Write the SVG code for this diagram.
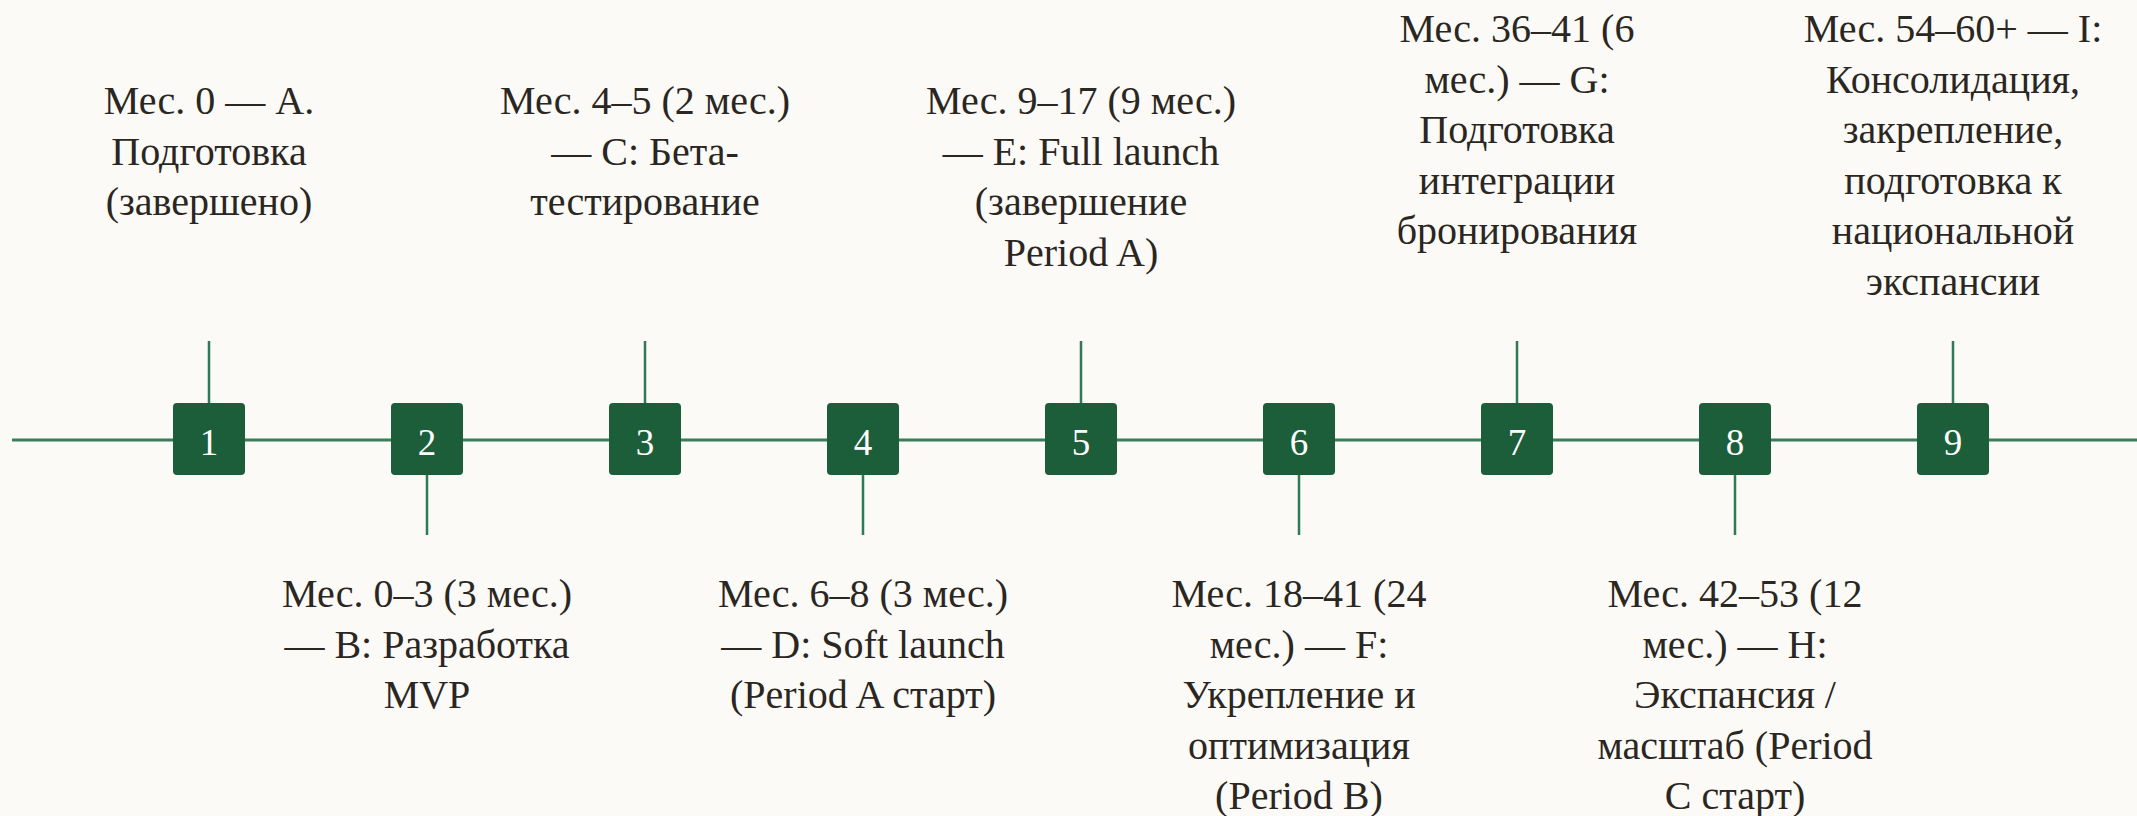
<svg xmlns="http://www.w3.org/2000/svg" width="2137" height="816" viewBox="0 0 2137 816">
<style>
.bg{fill:#fbfaf6}
.axis{stroke:#3a7d5b;stroke-width:3;fill:none}
.stem{stroke:#2f7a56;stroke-width:2.5;fill:none}
.box{fill:#1c5e3a}
.num{font-family:"Liberation Serif",serif;font-size:37px;fill:#ffffff;text-anchor:middle}
.lbl{font-family:"Liberation Serif",serif;font-size:40px;fill:#2a2622;text-anchor:middle}
</style>
<rect class="bg" x="0" y="0" width="2137" height="816"/>
<g id="connectors">
<line class="axis" x1="12" y1="440" x2="2137" y2="440"/>
<line class="stem" x1="209" y1="341" x2="209" y2="403"/>
<line class="stem" x1="427" y1="475" x2="427" y2="535"/>
<line class="stem" x1="645" y1="341" x2="645" y2="403"/>
<line class="stem" x1="863" y1="475" x2="863" y2="535"/>
<line class="stem" x1="1081" y1="341" x2="1081" y2="403"/>
<line class="stem" x1="1299" y1="475" x2="1299" y2="535"/>
<line class="stem" x1="1517" y1="341" x2="1517" y2="403"/>
<line class="stem" x1="1735" y1="475" x2="1735" y2="535"/>
<line class="stem" x1="1953" y1="341" x2="1953" y2="403"/>
</g>
<g id="node1">
<rect class="box" x="173" y="403" width="72" height="72" rx="4"/>
<text class="num" x="209" y="455">1</text>
<text class="lbl" x="209" y="114"><tspan x="209">Мес. 0 — А.</tspan><tspan x="209" dy="50.6">Подготовка</tspan><tspan x="209" dy="50.6">(завершено)</tspan></text>
</g>
<g id="node2">
<rect class="box" x="391" y="403" width="72" height="72" rx="4"/>
<text class="num" x="427" y="455">2</text>
<text class="lbl" x="427" y="607"><tspan x="427">Мес. 0–3 (3 мес.)</tspan><tspan x="427" dy="50.6">— B: Разработка</tspan><tspan x="427" dy="50.6">MVP</tspan></text>
</g>
<g id="node3">
<rect class="box" x="609" y="403" width="72" height="72" rx="4"/>
<text class="num" x="645" y="455">3</text>
<text class="lbl" x="645" y="114"><tspan x="645">Мес. 4–5 (2 мес.)</tspan><tspan x="645" dy="50.6">— C: Бета-</tspan><tspan x="645" dy="50.6">тестирование</tspan></text>
</g>
<g id="node4">
<rect class="box" x="827" y="403" width="72" height="72" rx="4"/>
<text class="num" x="863" y="455">4</text>
<text class="lbl" x="863" y="607"><tspan x="863">Мес. 6–8 (3 мес.)</tspan><tspan x="863" dy="50.6">— D: Soft launch</tspan><tspan x="863" dy="50.6">(Period A старт)</tspan></text>
</g>
<g id="node5">
<rect class="box" x="1045" y="403" width="72" height="72" rx="4"/>
<text class="num" x="1081" y="455">5</text>
<text class="lbl" x="1081" y="114"><tspan x="1081">Мес. 9–17 (9 мес.)</tspan><tspan x="1081" dy="50.6">— E: Full launch</tspan><tspan x="1081" dy="50.6">(завершение</tspan><tspan x="1081" dy="50.6">Period A)</tspan></text>
</g>
<g id="node6">
<rect class="box" x="1263" y="403" width="72" height="72" rx="4"/>
<text class="num" x="1299" y="455">6</text>
<text class="lbl" x="1299" y="607"><tspan x="1299">Мес. 18–41 (24</tspan><tspan x="1299" dy="50.6">мес.) — F:</tspan><tspan x="1299" dy="50.6">Укрепление и</tspan><tspan x="1299" dy="50.6">оптимизация</tspan><tspan x="1299" dy="50.6">(Period B)</tspan></text>
</g>
<g id="node7">
<rect class="box" x="1481" y="403" width="72" height="72" rx="4"/>
<text class="num" x="1517" y="455">7</text>
<text class="lbl" x="1517" y="42"><tspan x="1517">Мес. 36–41 (6</tspan><tspan x="1517" dy="50.6">мес.) — G:</tspan><tspan x="1517" dy="50.6">Подготовка</tspan><tspan x="1517" dy="50.6">интеграции</tspan><tspan x="1517" dy="50.6">бронирования</tspan></text>
</g>
<g id="node8">
<rect class="box" x="1699" y="403" width="72" height="72" rx="4"/>
<text class="num" x="1735" y="455">8</text>
<text class="lbl" x="1735" y="607"><tspan x="1735">Мес. 42–53 (12</tspan><tspan x="1735" dy="50.6">мес.) — H:</tspan><tspan x="1735" dy="50.6">Экспансия /</tspan><tspan x="1735" dy="50.6">масштаб (Period</tspan><tspan x="1735" dy="50.6">C старт)</tspan></text>
</g>
<g id="node9">
<rect class="box" x="1917" y="403" width="72" height="72" rx="4"/>
<text class="num" x="1953" y="455">9</text>
<text class="lbl" x="1953" y="42"><tspan x="1953">Мес. 54–60+ — I:</tspan><tspan x="1953" dy="50.6">Консолидация,</tspan><tspan x="1953" dy="50.6">закрепление,</tspan><tspan x="1953" dy="50.6">подготовка к</tspan><tspan x="1953" dy="50.6">национальной</tspan><tspan x="1953" dy="50.6">экспансии</tspan></text>
</g>
</svg>
